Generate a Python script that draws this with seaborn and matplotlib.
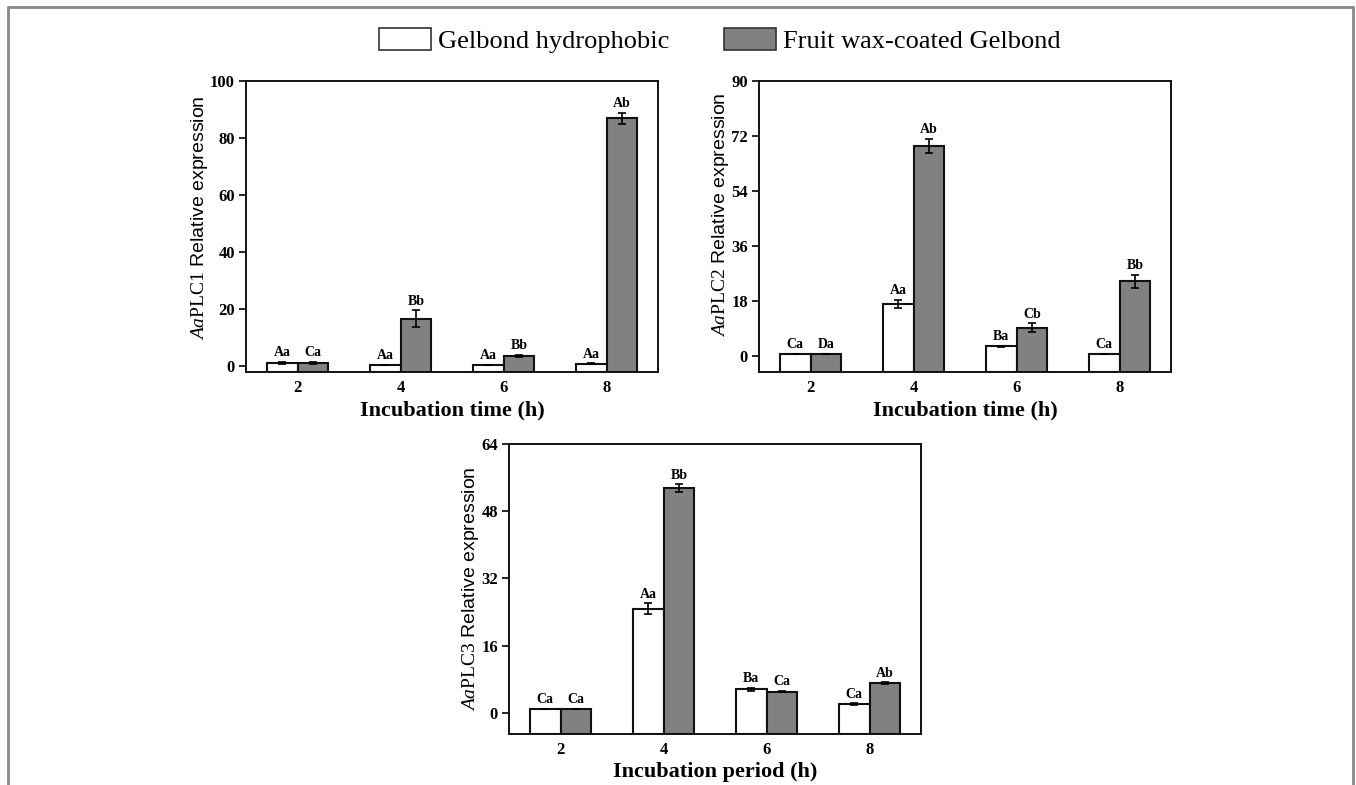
import numpy as np
import pandas as pd
import matplotlib
matplotlib.use("Agg")
import matplotlib.pyplot as plt
import seaborn as sns
from matplotlib.patches import Patch
from matplotlib.lines import Line2D

sns.set_style("white")
plt.rcParams['mathtext.fontset'] = 'custom'
plt.rcParams['mathtext.it'] = 'Liberation Serif:italic'
plt.rcParams['mathtext.rm'] = 'Liberation Serif'
for k in ['text.color', 'axes.labelcolor', 'xtick.color', 'ytick.color']:
    plt.rcParams[k] = 'black'

times = ["2", "4", "6", "8"]
series = ["Gelbond hydrophobic", "Fruit wax-coated Gelbond"]
colors = {"Gelbond hydrophobic": "#ffffff", "Fruit wax-coated Gelbond": "#818181"}

# Panel 1 (AaPLC1)
p1_white = [1.2, 0.4, 0.5, 0.9]
p1_white_err = [0.3, 0.1, 0.1, 0.1]
p1_gray = [1.2, 16.7, 3.6, 86.9]
p1_gray_err = [0.3, 2.9, 0.3, 2.0]
p1_white_lbl = ["Aa", "Aa", "Aa", "Aa"]
p1_gray_lbl = ["Ca", "Bb", "Bb", "Ab"]

# Panel 2 (AaPLC2)
p2_white = [0.8, 17.1, 3.2, 0.8]
p2_white_err = [0.05, 1.4, 0.2, 0.05]
p2_gray = [0.8, 68.8, 9.3, 24.5]
p2_gray_err = [0.05, 2.2, 1.4, 2.1]
p2_white_lbl = ["Ca", "Aa", "Ba", "Ca"]
p2_gray_lbl = ["Da", "Ab", "Cb", "Bb"]

# Panel 3 (AaPLC3)
p3_white = [0.95, 24.8, 5.6, 2.1]
p3_white_err = [0.1, 1.3, 0.4, 0.2]
p3_gray = [0.95, 53.5, 5.1, 7.1]
p3_gray_err = [0.1, 0.9, 0.2, 0.2]
p3_white_lbl = ["Ca", "Aa", "Ba", "Ca"]
p3_gray_lbl = ["Ca", "Bb", "Ca", "Ab"]

fig = plt.figure(figsize=(13.56, 7.85), dpi=100)

W, H = 1356, 785
def axes_px(l, t, r, b):
    return fig.add_axes([l / W, 1 - b / H, (r - l) / W, (b - t) / H])

ax1 = axes_px(246, 81, 658, 372)
ax2 = axes_px(759, 81, 1171, 372)
ax3 = axes_px(509, 444, 921, 734)

serif_bold = dict(family="Liberation Serif", weight="bold")

def panel(ax, white, werr, gray, gerr, wl, gl, ylim, yticks, ylabel, xlabel, label_y):
    df = pd.DataFrame({
        "time": times * 2,
        "value": list(white) + list(gray),
        "surface": [series[0]] * 4 + [series[1]] * 4,
    })
    sns.barplot(data=df, x="time", y="value", hue="surface", order=times,
                hue_order=series, palette=colors, width=0.6, edgecolor="#111111",
                linewidth=1.5, errorbar=None, legend=False, ax=ax)
    # bars in the original start at the bottom of the axis
    for p in ax.patches:
        h = p.get_height()
        p.set_y(ylim[0])
        p.set_height(h - ylim[0])
    xs = np.arange(len(times))
    off = 0.15
    for vals, errs, lbls, dx in [(white, werr, wl, -off), (gray, gerr, gl, off)]:
        ax.errorbar(xs + dx, vals, yerr=errs, fmt="none", ecolor="black",
                    elinewidth=1.2, capsize=3, capthick=1.2)
        for x, v, e, l in zip(xs + dx, vals, errs, lbls):
            ax.annotate(l, (x, v + e), xytext=(0, 2), textcoords="offset points",
                        ha="center", va="bottom", fontsize=10, **serif_bold)
    ax.set_xlim(-0.5, 3.5)
    ax.set_ylim(*ylim)
    ax.set_yticks(yticks)
    ax.set_yticklabels([str(t) for t in yticks], fontsize=12, **serif_bold)
    ax.set_xticks(xs)
    ax.set_xticklabels(times, fontsize=12, **serif_bold)
    ax.tick_params(axis="y", direction="out", length=5, width=1.2, left=True, pad=3)
    ax.tick_params(axis="x", length=0, pad=6)
    ax.set_xlabel(xlabel, fontsize=16, labelpad=3, **serif_bold)
    ax.set_ylabel(ylabel, fontsize=14, family="Liberation Sans", labelpad=0)
    fig.canvas.draw()
    ax.yaxis.label.set_y(label_y)
    for s in ax.spines.values():
        s.set_visible(True)
        s.set_color("#111111")
        s.set_linewidth(1.4)

panel(ax1, p1_white, p1_white_err, p1_gray, p1_gray_err, p1_white_lbl, p1_gray_lbl,
      (-2, 100), [0, 20, 40, 60, 80, 100],
      r"$\mathit{Aa}\mathrm{PLC1}$ Relative expression", "Incubation time (h)", 0.53)
panel(ax2, p2_white, p2_white_err, p2_gray, p2_gray_err, p2_white_lbl, p2_gray_lbl,
      (-5.2, 90), [0, 18, 36, 54, 72, 90],
      r"$\mathit{Aa}\mathrm{PLC2}$ Relative expression", "Incubation time (h)", 0.54)
panel(ax3, p3_white, p3_white_err, p3_gray, p3_gray_err, p3_white_lbl, p3_gray_lbl,
      (-5, 64), [0, 16, 32, 48, 64],
      r"$\mathit{Aa}\mathrm{PLC3}$ Relative expression", "Incubation period (h)", 0.5)

handles = [Patch(facecolor=colors[s], edgecolor="#333333", linewidth=1.2) for s in series]
fig.legend(handles, series, loc="center", bbox_to_anchor=(0.531, 0.948), ncol=2,
           frameon=False, prop=dict(family="Liberation Serif", size=19),
           handlelength=1.97, handleheight=0.9, handletextpad=0.27, columnspacing=2.05)

# outer gray frame
fig.add_artist(Line2D([8 / W, 8 / W], [0, 1 - 7 / H], transform=fig.transFigure,
                      color="#8a8a8a", lw=2))
fig.add_artist(Line2D([8 / W, 1353 / W], [1 - 7 / H, 1 - 7 / H], transform=fig.transFigure,
                      color="#8a8a8a", lw=2))
fig.add_artist(Line2D([1353 / W, 1353 / W], [0, 1 - 7 / H], transform=fig.transFigure,
                      color="#8a8a8a", lw=2))

fig.savefig("out.png", dpi=100, facecolor="white")
